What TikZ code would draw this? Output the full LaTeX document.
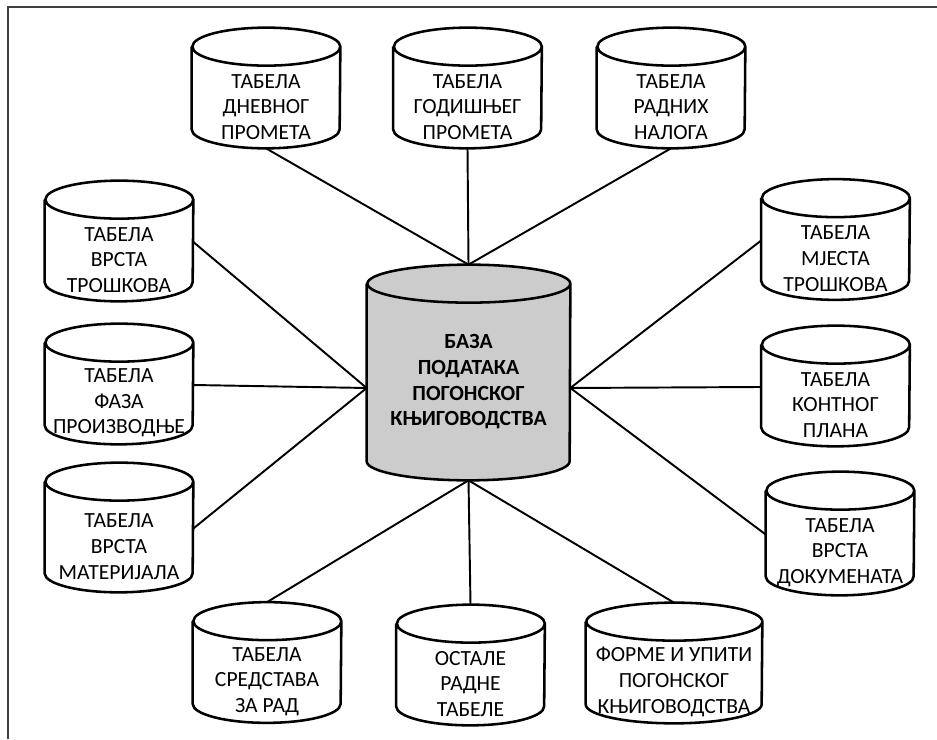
\documentclass[tikz,border=0pt]{standalone}
\usepackage{fontspec}
\setmainfont{Carlito}
\usetikzlibrary{backgrounds}

\begin{document}
\begin{tikzpicture}[
    tabela/.style={minimum width=2.96cm, minimum height=1.64cm, inner sep=0pt,
      align=center, font=\fontsize{12.3}{14.6}\selectfont},
    valjak/.style={line width=1.45pt},
    veza/.style={line width=1.1pt}
  ]
  \useasboundingbox (0,0) rectangle (18.74,14.78);
  \draw[line width=1pt, black!75] (0.16,0) -- (0.16,14.64) -- (18.74,14.64);
  % baza u sredini
  \node[tabela, minimum width=4.06cm, minimum height=3.92cm, font=\fontsize{12.3}{14.6}\selectfont\bfseries]
    (baza) at (9.37,7.14) {БАЗА\\ПОДАТАКА\\ПОГОНСКОГ\\КЊИГОВОДСТВА};
  % gore
  \node[tabela] (dnevni) at (5.32,12.64) {ТАБЕЛА\\ДНЕВНОГ\\ПРОМЕТА};
  \node[tabela] (godisnji) at (9.35,12.64) {ТАБЕЛА\\ГОДИШЊЕГ\\ПРОМЕТА};
  \node[tabela] (radni) at (13.42,12.64) {ТАБЕЛА\\РАДНИХ\\НАЛОГА};
  % lijevo
  \node[tabela] (vrstatr) at (2.38,9.58) {ТАБЕЛА\\ВРСТА\\ТРОШКОВА};
  \node[tabela] (faza) at (2.38,6.72) {ТАБЕЛА\\ФАЗА\\ПРОИЗВОДЊЕ};
  \node[tabela, minimum height=1.82cm] (materijal) at (2.38,3.85) {ТАБЕЛА\\ВРСТА\\МАТЕРИЈАЛА};
  % desno
  \node[tabela] (mjesta) at (16.71,9.61) {ТАБЕЛА\\МЈЕСТА\\ТРОШКОВА};
  \node[tabela] (kontni) at (16.71,6.68) {ТАБЕЛА\\КОНТНОГ\\ПЛАНА};
  \node[tabela, minimum height=1.7cm] (dokumenti) at (16.8,3.73) {ТАБЕЛА\\ВРСТА\\ДОКУМЕНАТА};
  % dolje
  \node[tabela] (sredstva) at (5.34,1.15) {ТАБЕЛА\\СРЕДСТАВА\\ЗА РАД};
  \node[tabela] (ostale) at (9.41,1.10) {ОСТАЛЕ\\РАДНЕ\\ТАБЕЛЕ};
  \node[tabela, minimum width=3.52cm] (forme) at (13.48,1.14) {ФОРМЕ И УПИТИ\\ПОГОНСКОГ\\КЊИГОВОДСТВА};
  % valjci
  \begin{scope}[on background layer]
    \filldraw[valjak, fill=black!20] (baza.north west) -- ([yshift=0.38cm]baza.south west)
      arc[start angle=180, end angle=360, x radius=2.03cm, y radius=0.38cm]
      -- (baza.north east) arc[start angle=0, end angle=360, x radius=2.03cm, y radius=0.38cm];
  \end{scope}
  \foreach \t/\r in {dnevni/1.48, godisnji/1.48, radni/1.48, vrstatr/1.48, faza/1.48,
      materijal/1.48, mjesta/1.48, kontni/1.48, dokumenti/1.48, sredstva/1.48,
      ostale/1.48, forme/1.76}
    \draw[valjak] ([yshift=0.38cm]\t.north west) -- ([yshift=0.38cm]\t.south west)
      arc[start angle=180, end angle=360, x radius=\r cm, y radius=0.38cm]
      -- ([yshift=0.38cm]\t.north east) arc[start angle=0, end angle=360, x radius=\r cm, y radius=0.38cm];
  %
  \draw[veza] (dnevni.south) -- ([yshift=0.38cm]baza.north);
  \draw[veza] (godisnji.south) -- ([yshift=0.38cm]baza.north);
  \draw[veza] (radni.south) -- ([yshift=0.38cm]baza.north);
  \draw[veza] ([yshift=0.36cm]vrstatr.east) -- ([yshift=-0.12cm]baza.west);
  \draw[veza] ([yshift=0.36cm]faza.east) -- ([yshift=-0.12cm]baza.west);
  \draw[veza] ([yshift=0.36cm]materijal.east) -- ([yshift=-0.12cm]baza.west);
  \draw[veza] ([yshift=0.36cm]mjesta.west) -- ([yshift=-0.12cm]baza.east);
  \draw[veza] ([yshift=0.36cm]kontni.west) -- ([yshift=-0.12cm]baza.east);
  \draw[veza] ([yshift=0.36cm]dokumenti.west) -- ([yshift=-0.12cm]baza.east);
  \draw[veza] ([yshift=0.76cm]sredstva.north) -- (baza.south);
  \draw[veza] ([yshift=0.76cm]ostale.north) -- (baza.south);
  \draw[veza] ([yshift=0.76cm]forme.north) -- (baza.south);
\end{tikzpicture}
\end{document}
